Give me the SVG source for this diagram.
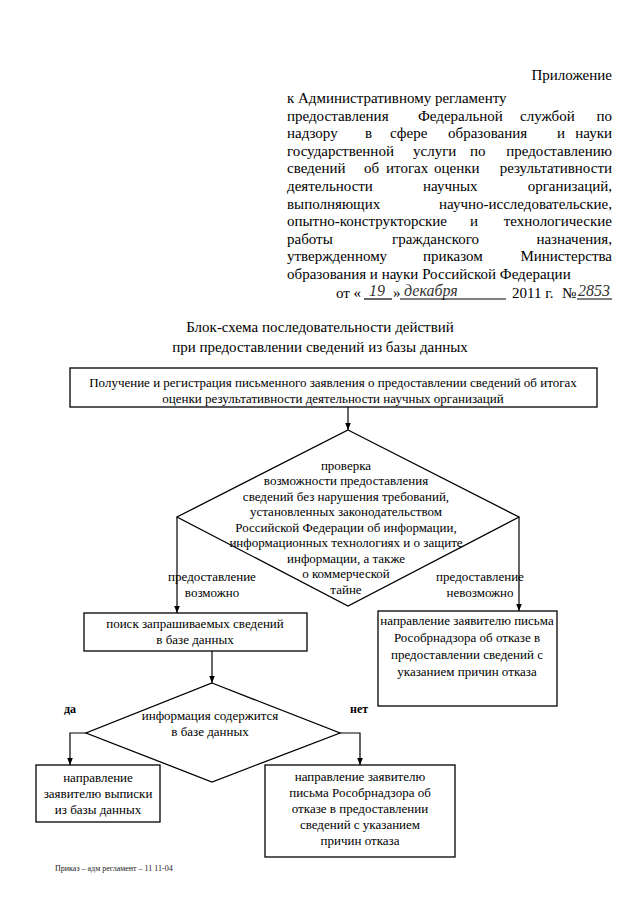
<svg xmlns="http://www.w3.org/2000/svg" width="640" height="905" viewBox="0 0 640 905">
<style>
.h{font-family:"Liberation Serif","Times New Roman",serif;font-size:15px;fill:#000}
.t{font-family:"Liberation Serif","Times New Roman",serif;font-size:13px;fill:#000;text-anchor:middle}
.e{text-anchor:end}
.b{font-family:"Liberation Serif","Times New Roman",serif;font-size:12px;font-weight:bold;fill:#000}
.hw{font-family:"Liberation Serif",serif;font-style:italic;font-size:16px;fill:#333}
.box{fill:#fff;stroke:#000;stroke-width:1.3}
.ln{fill:none;stroke:#000;stroke-width:1.2}
.f{font-family:"Liberation Serif",serif;font-size:8px;fill:#222}
</style>
<defs>
<marker id="ar" viewBox="0 0 10 10" refX="10" refY="5" markerWidth="7" markerHeight="7" orient="auto" markerUnits="userSpaceOnUse">
<path d="M0,1 L10,5 L0,9 z" fill="#000"/>
</marker>
</defs>
<rect width="640" height="905" fill="#fff"/>
<g id="header">
<text class="h e" x="612" y="80">Приложение</text>
<text class="h" x="287" y="103">к Административному регламенту</text>
<text class="h" y="120.6"><tspan x="287">предоставления</tspan><tspan x="418">Федеральной</tspan><tspan x="520">службой</tspan></text>
<text class="h e" x="612" y="120.6">по</text>
<text class="h" y="138.2"><tspan x="287">надзору</tspan><tspan x="365">в</tspan><tspan x="390">сфере</tspan><tspan x="448">образования</tspan><tspan x="557">и</tspan></text>
<text class="h e" x="612" y="138.2">науки</text>
<text class="h" y="155.8"><tspan x="287">государственной</tspan><tspan x="413">услуги</tspan><tspan x="470">по</tspan></text>
<text class="h e" x="612" y="155.8">предоставлению</text>
<text class="h" y="173.4"><tspan x="287">сведений</tspan><tspan x="364">об</tspan><tspan x="386">итогах</tspan><tspan x="434">оценки</tspan></text>
<text class="h e" x="612" y="173.4">результативности</text>
<text class="h" y="191"><tspan x="287">деятельности</tspan><tspan x="423">научных</tspan></text>
<text class="h e" x="612" y="191">организаций,</text>
<text class="h" x="287" y="208.6">выполняющих</text>
<text class="h e" x="612" y="208.6">научно-исследовательские,</text>
<text class="h" y="226.2"><tspan x="287">опытно-конструкторские</tspan><tspan x="470">и</tspan></text>
<text class="h e" x="612" y="226.2">технологические</text>
<text class="h" y="243.8"><tspan x="287">работы</tspan><tspan x="392">гражданского</tspan></text>
<text class="h e" x="612" y="243.8">назначения,</text>
<text class="h" y="261.4"><tspan x="287">утвержденному</tspan><tspan x="423">приказом</tspan></text>
<text class="h e" x="612" y="261.4">Министерства</text>
<text class="h" x="287" y="279">образования и науки Российской Федерации</text>
<text class="h" x="336" y="298">от «</text>
<text class="hw" x="369" y="296">19</text>
<line class="ln" x1="364" y1="299" x2="392" y2="299" stroke-width="0.8"/>
<text class="h" x="393" y="298">»</text>
<text class="hw" x="404" y="296">декабря</text>
<line class="ln" x1="400" y1="299" x2="506" y2="299" stroke-width="0.8"/>
<text class="h" x="512" y="298">2011 г.</text>
<text class="h" x="562" y="298">№</text>
<text class="hw" x="578" y="296">2853</text>
<line class="ln" x1="577" y1="299" x2="612" y2="299" stroke-width="0.8"/>
</g>
<g id="title">
<text class="h" x="320" y="332" text-anchor="middle">Блок-схема последовательности действий</text>
<text class="h" x="320" y="352" text-anchor="middle">при предоставлении сведений из базы данных</text>
</g>
<g id="connectors">
<line class="ln" x1="348" y1="407" x2="348" y2="430" marker-end="url(#ar)"/>
<line class="ln" x1="177" y1="517" x2="177" y2="613" marker-end="url(#ar)"/>
<line class="ln" x1="519" y1="517" x2="519" y2="611" marker-end="url(#ar)"/>
<line class="ln" x1="212" y1="651" x2="212" y2="683" marker-end="url(#ar)"/>
<polyline class="ln" points="86,733 70,733 70,765" marker-end="url(#ar)"/>
<polyline class="ln" points="340,733 360,733 360,765" marker-end="url(#ar)"/>
</g>
<g id="n_start">
<rect class="box" x="70" y="368" width="527" height="39"/>
<text class="t" x="333" y="387">Получение и регистрация письменного заявления о предоставлении сведений об итогах</text>
<text class="t" x="333" y="403">оценки результативности деятельности научных организаций</text>
</g>
<g id="n_check">
<polygon class="box" points="348,430 519,517 348,606 177,517"/>
<text class="t" x="346" y="469.5">проверка</text>
<text class="t" x="346" y="485">возможности предоставления</text>
<text class="t" x="346" y="500.5">сведений без нарушения требований,</text>
<text class="t" x="346" y="516">установленных законодательством</text>
<text class="t" x="346" y="531.5">Российской Федерации об информации,</text>
<text class="t" x="346" y="547">информационных технологиях и о защите</text>
<text class="t" x="346" y="562.5">информации, а также</text>
<text class="t" x="346" y="578">о коммерческой</text>
<text class="t" x="346" y="593.5">тайне</text>
</g>
<g id="l_yes">
<text class="t" x="212" y="581">предоставление</text>
<text class="t" x="212" y="597">возможно</text>
</g>
<g id="l_no">
<text class="t" x="480" y="581">предоставление</text>
<text class="t" x="480" y="597">невозможно</text>
</g>
<g id="n_search">
<rect class="box" x="84" y="613" width="223" height="38"/>
<text class="t" x="195" y="628">поиск запрашиваемых сведений</text>
<text class="t" x="195" y="644">в базе данных</text>
</g>
<g id="n_refuse1">
<rect class="box" x="378" y="611" width="179" height="95"/>
<text class="t" x="467" y="624.5">направление заявителю письма</text>
<text class="t" x="467" y="642">Рособрнадзора об отказе в</text>
<text class="t" x="467" y="659">предоставлении сведений с</text>
<text class="t" x="467" y="676">указанием причин отказа</text>
</g>
<g id="n_contains">
<polygon class="box" points="212,683 340,733 212,782 86,733"/>
<text class="t" x="210" y="720">информация содержится</text>
<text class="t" x="210" y="736">в базе данных</text>
</g>
<text class="b" x="64" y="713">да</text>
<text class="b" x="350" y="713">нет</text>
<g id="n_extract">
<rect class="box" x="36" y="765" width="124" height="57"/>
<text class="t" x="98" y="782">направление</text>
<text class="t" x="98" y="798">заявителю выписки</text>
<text class="t" x="98" y="814">из базы данных</text>
</g>
<g id="n_refuse2">
<rect class="box" x="265" y="765" width="190" height="92"/>
<text class="t" x="360" y="781">направление заявителю</text>
<text class="t" x="360" y="797">письма Рособрнадзора об</text>
<text class="t" x="360" y="813">отказе в предоставлении</text>
<text class="t" x="360" y="829">сведений с указанием</text>
<text class="t" x="360" y="845">причин отказа</text>
</g>
<text class="f" x="55" y="871">Приказ – адм  регламент – 11 11-04</text>
</svg>
